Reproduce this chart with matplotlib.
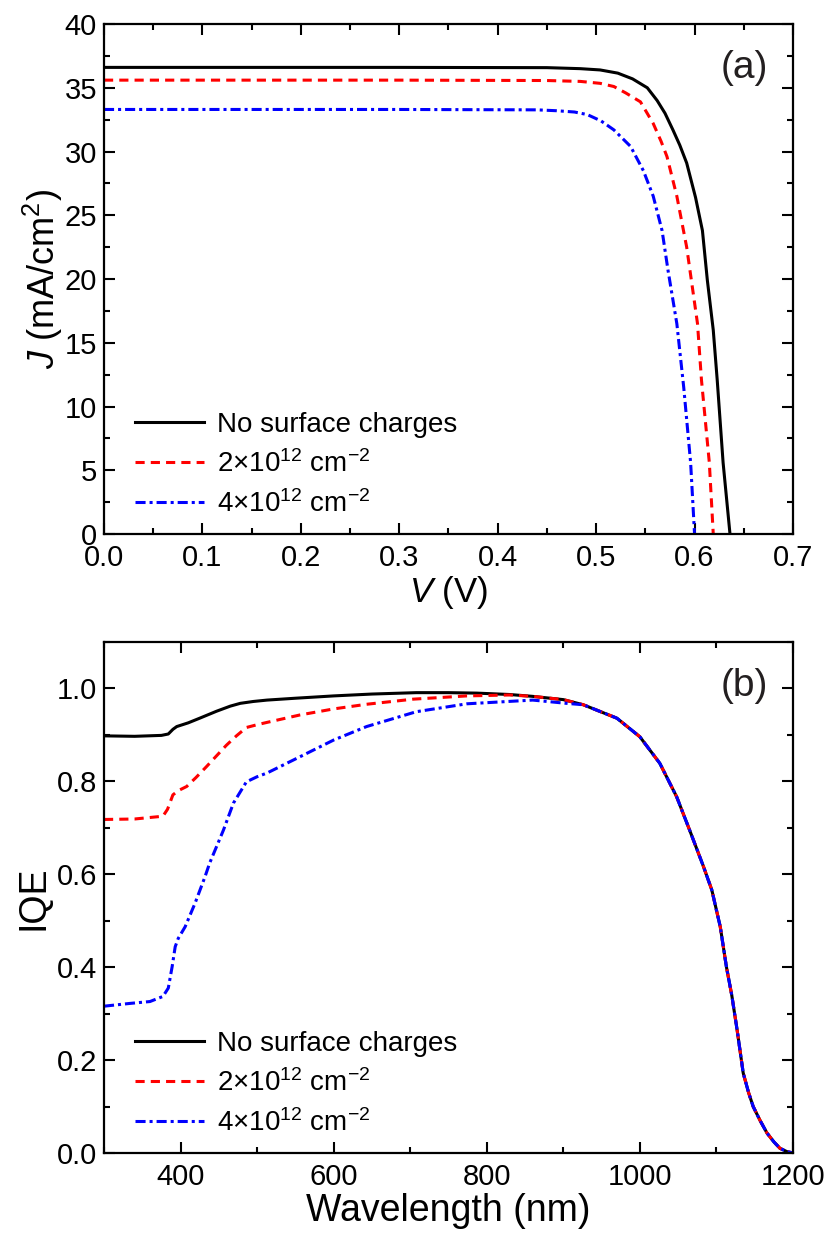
import matplotlib
matplotlib.use('Agg')
import matplotlib.pyplot as plt
from matplotlib.ticker import MultipleLocator

plt.rcParams['font.family'] = ['Liberation Sans', 'DejaVu Sans']
plt.rcParams['mathtext.fontset'] = 'custom'
plt.rcParams['mathtext.rm'] = 'Liberation Sans'
plt.rcParams['mathtext.it'] = 'Liberation Sans:italic'
plt.rcParams['mathtext.bf'] = 'Liberation Sans:bold'

labels = ['No surface charges',
          r'2$\times$10$^{12}$ cm$^{-2}$',
          r'4$\times$10$^{12}$ cm$^{-2}$']

# (a) J-V curves
v_none = [0, 0.30, 0.45, 0.484, 0.504, 0.522, 0.537, 0.552, 0.562, 0.570, 0.578,
          0.585, 0.592, 0.601, 0.608, 0.613, 0.619, 0.623, 0.629, 0.636]
j_none = [36.6, 36.6, 36.58, 36.5, 36.4, 36.15, 35.7, 35.0, 34.0, 33.0, 31.7,
          30.5, 29.1, 26.4, 23.8, 19.9, 16.0, 12.1, 5.6, 0]
v_2e12 = [0, 0.30, 0.45, 0.484, 0.504, 0.518, 0.530, 0.545, 0.558, 0.566, 0.572,
          0.582, 0.592, 0.603, 0.607, 0.615, 0.619]
j_2e12 = [35.6, 35.6, 35.57, 35.5, 35.35, 35.1, 34.6, 33.9, 32.2, 30.8, 29.6,
          26.5, 22.5, 16.5, 12.1, 5.6, 0]
v_4e12 = [0, 0.30, 0.44, 0.460, 0.478, 0.491, 0.505, 0.518, 0.535, 0.548, 0.558,
          0.567, 0.573, 0.582, 0.589, 0.596, 0.600]
j_4e12 = [33.3, 33.3, 33.27, 33.2, 33.1, 32.9, 32.4, 31.7, 30.4, 28.5, 26.5,
          23.8, 20.7, 16.5, 11.5, 5.6, 0]

# (b) IQE
wl_none = [300, 340, 375, 384, 390, 395, 410, 425, 447, 465, 478, 495, 513, 550,
           600, 650, 708, 750, 787, 830, 860, 900]
iqe_none = [0.898, 0.897, 0.899, 0.902, 0.912, 0.918, 0.926, 0.936, 0.951, 0.962,
            0.968, 0.972, 0.975, 0.979, 0.984, 0.988, 0.991, 0.991, 0.990, 0.987,
            0.983, 0.976]
wl_2e12 = [300, 340, 377, 383, 390, 397, 408, 420, 434, 447, 460, 473, 486, 500,
           513, 556, 600, 643, 704, 774, 830, 860, 900]
iqe_2e12 = [0.718, 0.719, 0.725, 0.740, 0.771, 0.780, 0.789, 0.808, 0.832, 0.855,
            0.878, 0.898, 0.916, 0.922, 0.927, 0.943, 0.956, 0.966, 0.977, 0.984,
            0.986, 0.983, 0.976]
wl_4e12 = [300, 334, 360, 377, 384, 389, 393, 397, 406, 419, 432, 438, 456, 469,
           486, 500, 513, 556, 600, 643, 708, 774, 860, 904]
iqe_4e12 = [0.316, 0.322, 0.326, 0.337, 0.355, 0.401, 0.444, 0.462, 0.487, 0.538,
            0.595, 0.624, 0.695, 0.753, 0.799, 0.810, 0.818, 0.853, 0.889, 0.918,
            0.950, 0.967, 0.975, 0.968]
# long-wavelength part shared by all three curves
wl_tail = [926, 970, 1000, 1026, 1048, 1065, 1083, 1094, 1105, 1113, 1120, 1127,
           1135, 1142, 1148, 1157, 1166, 1175, 1183, 1192, 1200]
iqe_tail = [0.965, 0.936, 0.896, 0.839, 0.767, 0.695, 0.617, 0.566, 0.487, 0.401,
            0.340, 0.265, 0.172, 0.130, 0.100, 0.070, 0.043, 0.024, 0.010, 0.003, 0.0]

lw = 2.2
styles = [dict(color='black', lw=lw, ls='-'),
          dict(color='#ff0000', lw=lw, dashes=(3, 2)),
          dict(color='#0000ff', lw=lw, dashes=(3.3, 1.3, 1, 1.3))]

fig = plt.figure(figsize=(8.3, 12.33), dpi=100)
ax1 = fig.add_axes([0.1253, 0.5669, 0.8301, 0.4136])
ax2 = fig.add_axes([0.1253, 0.0649, 0.8301, 0.4144])

for x, y, lab, st in zip([v_none, v_2e12, v_4e12], [j_none, j_2e12, j_4e12], labels, styles):
    ax1.plot(x, y, label=lab, **st)

for x, y, lab, st in zip([wl_none, wl_2e12, wl_4e12], [iqe_none, iqe_2e12, iqe_4e12], labels, styles):
    ax2.plot(x + wl_tail, y + iqe_tail, label=lab, **st)

ax1.set_xlim(0, 0.7)
ax1.set_ylim(0, 40)
ax1.xaxis.set_major_locator(MultipleLocator(0.1))
ax1.xaxis.set_minor_locator(MultipleLocator(0.05))
ax1.yaxis.set_major_locator(MultipleLocator(5))
ax1.yaxis.set_minor_locator(MultipleLocator(2.5))
ax1.xaxis.set_major_formatter(plt.FormatStrFormatter('%.1f'))
ax1.set_xlabel(r'$V$ (V)', fontsize=25, labelpad=1)
ax1.set_ylabel(r'$J$ (mA/cm$^2$)', fontsize=26, labelpad=0)

ax2.set_xlim(300, 1200)
ax2.set_ylim(0, 1.1)
ax2.xaxis.set_major_locator(MultipleLocator(200))
ax2.xaxis.set_minor_locator(MultipleLocator(100))
ax2.yaxis.set_major_locator(MultipleLocator(0.2))
ax2.yaxis.set_minor_locator(MultipleLocator(0.1))
ax2.yaxis.set_major_formatter(plt.FormatStrFormatter('%.1f'))
ax2.set_xlabel('Wavelength (nm)', fontsize=27, labelpad=1)
ax2.set_ylabel('IQE', fontsize=27, labelpad=4)

for ax, tag in zip([ax1, ax2], ['(a)', '(b)']):
    for s in ax.spines.values():
        s.set_linewidth(1.6)
    ax.tick_params(which='both', direction='in', top=True, right=True,
                   width=1.5, labelsize=21)
    ax.tick_params(which='major', length=8)
    ax.tick_params(which='minor', length=4.5)
    ax.tick_params(axis='x', which='major', pad=7.5)
    ax.tick_params(axis='y', which='major', pad=5)
    ax.text(0.93, 0.913, tag, transform=ax.transAxes, fontsize=28,
            color='#231f20', ha='center', va='center')
    ax.legend(loc='lower left', bbox_to_anchor=(0.045, 0.032), frameon=False,
              fontsize=20, handlelength=2.5, handletextpad=0.45,
              labelspacing=0.43, borderpad=0, borderaxespad=0)

fig.savefig('out.png', dpi=100)
